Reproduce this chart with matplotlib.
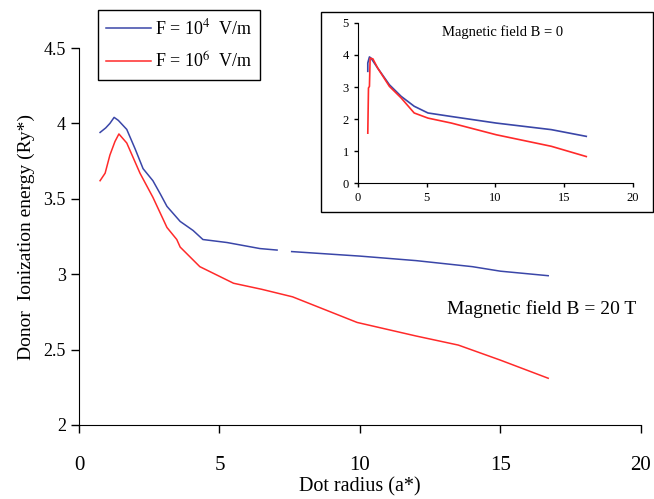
import numpy as np
import matplotlib
matplotlib.use("Agg")
import matplotlib.pyplot as plt
from matplotlib.patches import Rectangle

plt.rcParams["font.family"] = ["Liberation Serif", "DejaVu Serif"]
plt.rcParams["mathtext.fontset"] = "stix"

BLUE = "#3a46a8"
RED = "#ff2a2a"

# main panel, B = 20 T
x_b20_f4 = [0.75, 0.95, 1.1, 1.25, 1.4, 1.7, 2.0, 2.28, 2.63, 2.9, 3.13, 3.6, 4.06, 4.41,
            5.27, 6.44, 7.05, 7.3, 7.57, 10.0, 12.0, 14.0, 15.0, 16.7]
y_b20_f4 = [3.94, 3.97, 4.0, 4.04, 4.02, 3.96, 3.83, 3.70, 3.62, 3.53, 3.45, 3.35, 3.29, 3.23,
            3.21, 3.17, 3.16, np.nan, 3.15, 3.12, 3.09, 3.05, 3.02, 2.99]

x_b20_f6 = [0.75, 0.93, 1.1, 1.28, 1.42, 1.7, 2.17, 2.63, 3.13, 3.48, 3.6, 4.3, 5.5, 6.5,
            7.6, 9.9, 12.0, 13.5, 15.0, 16.7]
y_b20_f6 = [3.62, 3.67, 3.79, 3.88, 3.93, 3.87, 3.67, 3.51, 3.31, 3.23, 3.18, 3.05, 2.94, 2.90,
            2.85, 2.68, 2.59, 2.53, 2.43, 2.31]

# inset, B = 0
x_b0_f4 = [0.73, 0.73, 0.85, 0.97, 1.45, 2.3, 3.15, 4.1, 5.1, 6.8, 10.06, 14.06, 16.6]
y_b0_f4 = [3.49, 3.75, 3.94, 3.90, 3.59, 3.07, 2.71, 2.40, 2.19, 2.08, 1.875, 1.67, 1.46]

x_b0_f6 = [0.73, 0.78, 0.85, 0.9, 1.1, 1.45, 2.3, 3.15, 4.1, 5.1, 6.8, 10.06, 14.06, 16.6]
y_b0_f6 = [1.56, 2.97, 3.02, 3.90, 3.88, 3.59, 3.02, 2.66, 2.19, 2.03, 1.875, 1.51, 1.15, 0.83]

fig = plt.figure(figsize=(6.54, 4.99), dpi=100)

ax = fig.add_axes([0.1208, 0.1483, 0.8592, 0.7555])
l1, = ax.plot(x_b20_f4, y_b20_f4, color=BLUE, lw=1.1, label=r"F = 10$^{4}$  V/m")
l2, = ax.plot(x_b20_f6, y_b20_f6, color=RED, lw=1.1, label=r"F = 10$^{6}$  V/m")
ax.set_xlim(0, 20)
ax.set_ylim(2, 4.5)
ax.set_xticks([0, 5, 10, 15, 20])
ax.set_yticks([2, 2.5, 3, 3.5, 4, 4.5])
ax.set_yticklabels(["2", "2.5", "3", "3.5", "4", "4.5"])
for s in ("top", "right"):
    ax.spines[s].set_visible(False)
ax.tick_params(length=6, width=1, direction="out")
ax.tick_params(axis="y", labelsize=13)
ax.tick_params(axis="x", labelsize=15, pad=16)
ax.set_xlabel("Dot radius (a*)", fontsize=14.5, labelpad=2)
ax.set_ylabel("Donor  Ionization energy (Ry*)", fontsize=14, labelpad=6)
ax.text(19.85, 2.77, "Magnetic field B = 20 T", fontsize=14, ha="right", va="center")

fig.legend(handles=[l1, l2], loc="upper left", bbox_to_anchor=(0.150, 0.980),
           borderaxespad=0, fontsize=13, frameon=True, fancybox=False, edgecolor="black",
           framealpha=1, handlelength=2.5, handletextpad=0.2, borderpad=0.45,
           labelspacing=0.75)

# inset frame
fig.patches.append(Rectangle((0.4908, 0.575), 0.507, 0.401, transform=fig.transFigure,
                             facecolor="white", edgecolor="black", lw=1.0, zorder=2))

ins = fig.add_axes([0.547, 0.633, 0.421, 0.321])
ins.set_zorder(3)
ins.plot(x_b0_f4, y_b0_f4, color=BLUE, lw=1.2)
ins.plot(x_b0_f6, y_b0_f6, color=RED, lw=1.2)
ins.set_xlim(0, 20)
ins.set_ylim(0, 5)
ins.set_xticks([0, 5, 10, 15, 20])
ins.set_yticks([0, 1, 2, 3, 4, 5])
for s in ("top", "right"):
    ins.spines[s].set_visible(False)
ins.tick_params(labelsize=9, length=3, width=1, direction="out")
ins.text(10.5, 4.7, "Magnetic field B = 0", fontsize=10.5, ha="center", va="center")

fig.savefig("out.png", dpi=100)
